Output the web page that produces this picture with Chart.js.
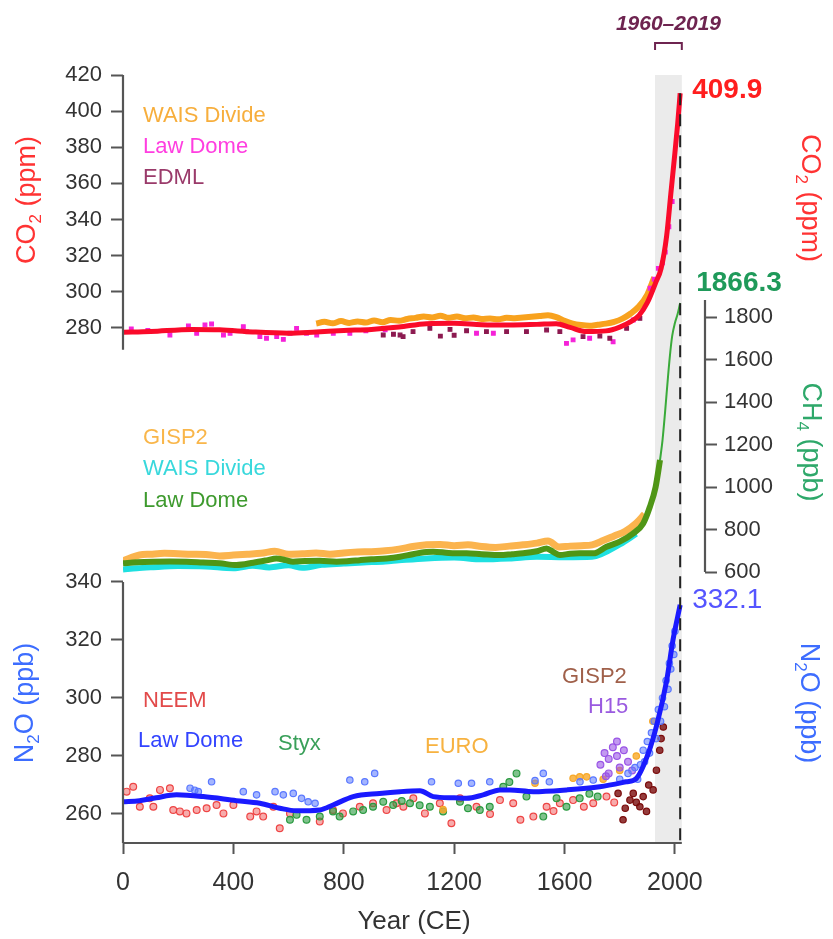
<!DOCTYPE html>
<html>
<head>
<meta charset="utf-8">
<title>CO2, CH4 and N2O over the Common Era</title>
<script src="https://cdn.jsdelivr.net/npm/chart.js@4.4.1/dist/chart.umd.min.js"></script>
<style>
  html, body { margin: 0; padding: 0; background: #ffffff; }
  #wrap { width: 833px; height: 939px; }
</style>
</head>
<body>
<div id="wrap"><canvas id="chart" width="833" height="939"></canvas></div>
<script>
const FONT = "'Liberation Sans', Arial, Helvetica, sans-serif";

// ---- tick values ----
const yearTicks = [0, 400, 800, 1200, 1600, 2000];
const co2Ticks = [280, 300, 320, 340, 360, 380, 400, 420];
const ch4Ticks = [600, 800, 1000, 1200, 1400, 1600, 1800];
const n2oTicks = [260, 280, 300, 320, 340];

// ---- highlighted recent period and latest values ----
const highlightSpan = [1928, 2025];
const periodLabel = '1960\u20132019';
const latestYear = 2019;
const latestCO2 = 409.9;
const latestCH4 = 1866.3;
const latestN2O = 332.1;

// ---- CO2 (ppm) ----
const co2Spline = [[0,277.6],[100,278.0],[250,279.2],[350,279.0],[470,277.8],[600,277.1],[700,277.8],[800,278.6],[900,279.2],[1000,280.5],[1100,282.4],[1200,282.6],[1300,281.8],[1400,281.6],[1500,282.0],[1570,282.4],[1620,280.3],[1680,278.0],[1750,278.4],[1800,280.5],[1840,283.5],[1870,287.0],[1900,294.0],[1930,305.0],[1950,313.0],[1970,331.0],[1985,354.0],[2000,377.0],[2010,393.0],[2019,409.9]];
const co2Wais = [[700,282.5],[730,283.4],[760,282.6],[790,283.8],[820,282.8],[850,283.6],[880,283.0],[910,284.2],[940,283.2],[970,284.4],[1000,284.0],[1030,285.0],[1060,285.6],[1090,286.4],[1120,285.8],[1150,286.8],[1180,285.6],[1210,286.4],[1240,285.4],[1270,285.8],[1300,285.0],[1330,285.2],[1360,284.8],[1390,285.6],[1420,285.4],[1450,285.8],[1480,286.2],[1510,286.6],[1540,287.0],[1570,286.0],[1600,284.0],[1630,282.4],[1660,281.6],[1690,281.2],[1720,281.8],[1750,282.4],[1780,283.4],[1810,285.2],[1840,288.0],[1870,292.0],[1900,298.5],[1925,308.0]];
const co2LawDome = [[30,279.5],[90,278.6],[170,276.1],[237,281.1],[267,277.1],[297,281.7],[321,282.2],[364,276.1],[388,277.1],[436,280.7],[448,278.0],[496,275.2],[520,274.3],[557,275.2],[581,273.7],[605,277.1],[629,279.8],[665,277.1],[702,276.1],[762,277.1],[822,277.1],[880,278.5],[950,279.0],[1281,277.1],[1342,277.1],[1607,271.5],[1631,273.4],[1691,274.3],[1776,272.4],[1849,284.4],[1910,302.0],[1925,307.0],[1940,313.0],[1955,316.0],[1965,322.0],[1978,336.0],[1990,350.0]];
const co2Edml = [[943,276.1],[980,276.5],[1004,276.1],[1015,275.2],[1051,278.0],[1112,279.8],[1150,275.5],[1185,279.2],[1200,276.0],[1245,278.5],[1317,278.0],[1390,278.0],[1462,278.0],[1535,278.9],[1583,278.0],[1667,275.2],[1728,275.6],[1764,274.3],[1825,279.8],[1873,285.3]];

// ---- CH4 (ppb) ----
const ch4LawDome = [[0,641],[50,646],[110,649],[170,650],[230,649],[290,645],[350,641],[411,633],[472,644],[520,655],[556,664],[590,656],[616,649],[660,652],[713,653],[774,649],[820,652],[858,656],[900,660],[955,664],[1004,672],[1050,684],[1100,694],[1124,696],[1180,690],[1245,688],[1300,684],[1366,680],[1410,684],[1450,688],[1500,698],[1535,711],[1560,694],[1583,680],[1620,686],[1655,688],[1704,688],[1752,719],[1800,743],[1849,782],[1885,829],[1909,906],[1930,1000],[1946,1127]];
const ch4Gisp2 = [[0,652],[30,668],[60,680],[100,684],[150,688],[200,686],[250,684],[300,683],[350,676],[400,680],[450,684],[500,688],[550,698],[600,684],[650,686],[700,690],[750,684],[800,690],[850,694],[900,696],[950,700],[1000,708],[1050,720],[1100,728],[1150,730],[1200,724],[1250,728],[1300,720],[1350,716],[1400,722],[1450,728],[1500,736],[1540,746],[1580,718],[1620,722],[1660,724],[1700,728],[1740,748],[1780,770],[1820,792],[1860,830],[1890,872]];
const ch4Wais = [[0,612],[50,618],[100,622],[200,628],[300,626],[400,618],[470,630],[530,622],[600,632],[650,620],[720,634],[800,640],[870,645],[950,650],[1000,655],[1100,664],[1200,668],[1300,660],[1400,664],[1500,672],[1600,670],[1700,672],[1800,730],[1860,780]];
const ch4Recent = [[1946,1127],[1955,1220],[1964,1348],[1975,1520],[1982,1620],[1990,1710],[2000,1772],[2010,1815],[2019,1866.3]];

// ---- N2O (ppb) ----
const n2oSpline = [[0,264.2],[60,264.6],[120,265.6],[194,266.6],[291,266.0],[411,264.6],[496,263.7],[568,262.0],[628,261.1],[713,261.4],[761,263.1],[834,266.0],[930,267.1],[1004,267.7],[1076,268.0],[1124,266.0],[1200,265.6],[1245,265.4],[1305,266.6],[1366,268.3],[1402,268.3],[1487,267.7],[1607,268.3],[1728,269.4],[1824,271.1],[1860,272.2],[1900,280.0],[1935,291.0],[1970,306.0],[1993,320.0],[2010,328.0],[2019,332.1]];
const n2oLawDome = [[243,268.9],[260,268.2],[273,267.7],[321,271.1],[436,267.7],[484,266.6],[551,267.7],[581,266.6],[617,267.1],[647,265.4],[671,264.2],[696,263.7],[822,271.7],[876,271.1],[912,274.0],[1118,271.1],[1215,270.6],[1263,270.6],[1329,271.1],[1493,271.5],[1523,274.0],[1545,271.1],[1656,271.1],[1704,271.7],[1800,272.0],[1830,274.0],[1855,276.0],[1865,272.0],[1875,277.0],[1885,282.0],[1890,278.0],[1900,285.0],[1908,281.0],[1915,288.0],[1925,292.0],[1932,286.0],[1940,296.0],[1948,292.0],[1955,300.0],[1962,297.0],[1968,306.0],[1975,303.0],[1980,312.0],[1985,310.0],[1990,318.0],[1996,315.0],[2000,323.0]];
const n2oNeem = [[13,267.7],[37,269.4],[61,262.5],[97,265.4],[110,262.5],[134,268.3],[170,268.9],[182,261.4],[206,260.9],[230,260.2],[267,261.4],[303,262.0],[339,263.1],[364,260.2],[400,263.1],[461,259.1],[484,260.9],[508,259.1],[545,262.5],[568,255.1],[605,260.2],[713,257.4],[761,261.4],[797,260.2],[858,262.5],[906,263.7],[955,261.4],[991,263.7],[1016,262.5],[1052,265.4],[1094,260.2],[1148,263.7],[1190,256.8],[1221,265.4],[1281,262.5],[1330,260.0],[1366,264.8],[1414,263.7],[1440,258.0],[1487,259.1],[1535,262.5],[1560,261.0],[1583,263.7],[1631,264.8],[1670,262.5],[1704,263.7],[1752,266.0],[1780,264.0]];
const n2oStyx = [[605,258.0],[629,259.7],[665,258.0],[713,259.1],[761,260.9],[785,259.1],[834,260.9],[870,261.4],[906,262.5],[943,264.2],[979,263.1],[1010,264.5],[1040,263.7],[1075,263.0],[1112,262.5],[1160,260.9],[1221,264.2],[1250,262.0],[1293,261.4],[1329,262.5],[1378,269.4],[1400,271.0],[1426,274.0],[1462,266.0],[1523,259.1],[1571,265.4],[1607,262.5],[1655,265.4],[1690,267.0],[1720,266.0]];
const n2oEuro = [[1160,261.5],[1493,270.6],[1631,272.3],[1655,272.8],[1680,272.8],[1740,272.0],[1800,275.0],[1860,280.0],[1920,292.0]];
const n2oGisp2 = [[1794,267.1],[1812,258.0],[1820,262.0],[1837,264.8],[1849,267.1],[1860,264.0],[1873,262.5],[1885,266.0],[1897,260.9],[1905,270.0],[1921,268.3],[1933,275.1],[1945,282.0],[1950,286.0],[1958,290.0]];
const n2oH15 = [[1730,277],[1745,281],[1750,273],[1760,279],[1760,274],[1775,283],[1790,280],[1790,285],[1800,276],[1815,282],[1830,278],[1845,275]];

const pts = arr => arr.map(([x, y]) => ({ x, y }));

function lineSet(data, axis, color, width, order) {
  return { type: 'line', data: pts(data), yAxisID: axis, borderColor: color, borderWidth: width,
           pointRadius: 0, showLine: true, fill: false, cubicInterpolationMode: 'monotone', order };
}
function dotSet(data, axis, fillCol, edgeCol, style, r, order) {
  return { type: 'scatter', data: pts(data), yAxisID: axis, backgroundColor: fillCol, borderColor: edgeCol,
           borderWidth: 1.2, pointStyle: style, pointRadius: r, showLine: false, order };
}

const datasets = [
  // CO2
  lineSet(co2Spline, 'yCO2', '#fa0a2a', 5, 1),
  dotSet(co2Edml, 'yCO2', '#8c1a50', '#8c1a50', 'rect', 2.6, 2),
  dotSet(co2LawDome, 'yCO2', '#f522d8', '#f522d8', 'rect', 2.6, 3),
  lineSet(co2Wais, 'yCO2', '#f8a21e', 6, 4),
  // CH4
  lineSet(ch4Recent, 'yCH4', '#3aaa3a', 2, 5),
  lineSet(ch4LawDome, 'yCH4', '#4f9616', 6, 6),
  lineSet(ch4Gisp2, 'yCH4', '#fbb44e', 7, 7),
  lineSet(ch4Wais, 'yCH4', '#1ee0e0', 6, 8),
  // N2O
  lineSet(n2oSpline, 'yN2O', '#1a1aff', 5, 9),
  dotSet(n2oLawDome, 'yN2O', 'rgba(90,120,255,0.55)', '#5a78ff', 'circle', 3.2, 10),
  dotSet(n2oH15, 'yN2O', 'rgba(154,85,230,0.6)', '#9a55e6', 'circle', 3.4, 11),
  dotSet(n2oGisp2, 'yN2O', 'rgba(122,12,12,0.8)', '#7a0c0c', 'circle', 3.2, 12),
  dotSet(n2oEuro, 'yN2O', 'rgba(247,168,40,0.8)', '#f7a828', 'circle', 3.2, 13),
  dotSet(n2oStyx, 'yN2O', 'rgba(42,154,64,0.6)', '#2a9a40', 'circle', 3.4, 14),
  dotSet(n2oNeem, 'yN2O', 'rgba(238,68,68,0.45)', '#ee4444', 'circle', 3.4, 15)
];

// fixed axis footprints so the three panels share one plotting frame
function fixSize(prop, size) {
  return s => { s[prop] = size; s.paddingLeft = 0; s.paddingRight = 0; s.paddingTop = 0; s.paddingBottom = 0; };
}
function useTicks(list) {
  return s => { s.ticks = list.map(v => ({ value: v })); };
}
const tickFont = { family: FONT, size: 22 };
function yAxis(pos, min, max, list, width) {
  return {
    type: 'linear', position: pos, min, max, bounds: 'data',
    afterBuildTicks: useTicks(list),
    afterFit: fixSize('width', width),
    border: { display: false },
    grid: { drawOnChartArea: false, drawTicks: true, tickLength: 12, tickWidth: 2, tickColor: '#555' },
    ticks: { color: '#333', font: tickFont, padding: pos === 'left' ? 9 : 7, callback: v => String(v) }
  };
}

// subscript-aware label writer
function writeChem(ctx, parts, cx, cy, rot, size, color, weight) {
  const subSize = Math.round(size * 0.62);
  ctx.save();
  ctx.translate(cx, cy);
  ctx.rotate(rot);
  ctx.fillStyle = color;
  ctx.textBaseline = 'middle';
  ctx.textAlign = 'left';
  let total = 0;
  const widths = parts.map(([t, sub]) => {
    ctx.font = (weight || '') + ' ' + (sub ? subSize : size) + 'px ' + FONT;
    const w = ctx.measureText(t).width;
    total += w;
    return w;
  });
  let x = -total / 2;
  parts.forEach(([t, sub], i) => {
    ctx.font = (weight || '') + ' ' + (sub ? subSize : size) + 'px ' + FONT;
    ctx.fillText(t, x, sub ? size * 0.3 : 0);
    x += widths[i];
  });
  ctx.restore();
}

const decor = {
  id: 'decor',
  afterLayout(chart) {
    // the inner N2O axis shares the CO2 axis' label strip
    const s = chart.scales.yN2O;
    s.left = 0;
    s.width = s.right - s.left;
  },
  beforeDatasetsDraw(chart) {
    const { ctx, chartArea: a, scales: { x } } = chart;
    const x0 = x.getPixelForValue(highlightSpan[0]);
    const x1 = x.getPixelForValue(highlightSpan[1]);
    ctx.save();
    ctx.fillStyle = '#ebebeb';
    ctx.fillRect(x0, a.top, x1 - x0, a.bottom - a.top);
    ctx.restore();
  },
  afterDatasetsDraw(chart) {
    const { ctx, chartArea: a, scales: { x, yCO2 } } = chart;
    const xl = x.getPixelForValue(latestYear);
    ctx.save();
    ctx.strokeStyle = '#222';
    ctx.lineWidth = 2;
    ctx.setLineDash([12, 9]);
    ctx.beginPath();
    ctx.moveTo(xl, yCO2.getPixelForValue(latestCO2));
    ctx.lineTo(xl, a.bottom);
    ctx.stroke();
    ctx.restore();
  },
  afterDraw(chart) {
    const { ctx, chartArea: a, scales: { x, yCO2, yCH4, yN2O } } = chart;
    ctx.save();
    // axis lines
    ctx.strokeStyle = '#555';
    ctx.lineWidth = 2.2;
    ctx.lineCap = 'butt';
    const seg = (x1, y1, x2, y2) => { ctx.beginPath(); ctx.moveTo(x1, y1); ctx.lineTo(x2, y2); ctx.stroke(); };
    seg(x.getPixelForValue(0), a.bottom, x.getPixelForValue(2025), a.bottom);
    seg(a.left, yCO2.getPixelForValue(420), a.left, yCO2.getPixelForValue(268));
    seg(a.left, yN2O.getPixelForValue(340), a.left, a.bottom);
    seg(a.right, yCH4.getPixelForValue(1880), a.right, yCH4.getPixelForValue(600));

    // period bracket
    const b0 = x.getPixelForValue(highlightSpan[0]);
    const b1 = x.getPixelForValue(highlightSpan[1]);
    ctx.strokeStyle = '#6e2450';
    ctx.lineWidth = 2;
    ctx.beginPath();
    ctx.moveTo(b0, 50); ctx.lineTo(b0, 43); ctx.lineTo(b1, 43); ctx.lineTo(b1, 50);
    ctx.stroke();
    ctx.fillStyle = '#6e2450';
    ctx.font = 'italic bold 21px ' + FONT;
    ctx.textAlign = 'center';
    ctx.textBaseline = 'middle';
    ctx.fillText(periodLabel, (b0 + b1) / 2, 24);

    // latest values
    const xl = x.getPixelForValue(latestYear);
    ctx.textAlign = 'left';
    ctx.font = 'bold 28px ' + FONT;
    ctx.fillStyle = '#ff1e1e';
    ctx.fillText(latestCO2.toFixed(1), xl + 12, yCO2.getPixelForValue(latestCO2) - 3);
    ctx.fillStyle = '#1f9a5a';
    ctx.fillText(latestCH4.toFixed(1), xl + 16, yCH4.getPixelForValue(latestCH4) - 20);
    ctx.font = '28px ' + FONT;
    ctx.fillStyle = '#5555ff';
    ctx.fillText(latestN2O.toFixed(1), xl + 12, yN2O.getPixelForValue(latestN2O) - 5);

    // series names
    const names = [
      ['WAIS Divide', '#f7ae3c', 143, 116], ['Law Dome', '#ff3ee0', 143, 147], ['EDML', '#9a3a6a', 143, 178],
      ['GISP2', '#f9b64a', 143, 438], ['WAIS Divide', '#38d8dc', 143, 469], ['Law Dome', '#3e9a2e', 143, 501],
      ['NEEM', '#e24a4a', 143, 701], ['Law Dome', '#3344ff', 138, 741], ['Styx', '#3aa05a', 278, 744],
      ['EURO', '#f7b240', 425, 747], ['GISP2', '#a0604a', 562, 677], ['H15', '#9a5ae0', 588, 707]
    ];
    ctx.font = '22px ' + FONT;
    names.forEach(([t, c, px, py]) => { ctx.fillStyle = c; ctx.fillText(t, px, py); });

    // axis titles
    const co2Parts = [['CO', 0], ['2', 1], [' (ppm)', 0]];
    const ch4Parts = [['CH', 0], ['4', 1], [' (ppb)', 0]];
    const n2oParts = [['N', 0], ['2', 1], ['O (ppb)', 0]];
    writeChem(ctx, co2Parts, 28, 200, -Math.PI / 2, 27, '#ff3333');
    writeChem(ctx, n2oParts, 26, 703, -Math.PI / 2, 27, '#3d6dff');
    writeChem(ctx, co2Parts, 809, 198, Math.PI / 2, 27, '#ff3333');
    writeChem(ctx, ch4Parts, 810, 442, Math.PI / 2, 27, '#2ea86a');
    writeChem(ctx, n2oParts, 808, 703, Math.PI / 2, 27, '#3d6dff');
    ctx.restore();
  }
};

new Chart(document.getElementById('chart'), {
  type: 'scatter',
  data: { datasets },
  options: {
    responsive: false,
    animation: false,
    devicePixelRatio: 1,
    layout: { padding: { top: 75, left: 0, right: 0, bottom: 0 } },
    plugins: { legend: { display: false }, tooltip: { enabled: false } },
    scales: {
      x: {
        type: 'linear', position: 'bottom', min: 0, max: 2109, bounds: 'data',
        afterBuildTicks: useTicks(yearTicks),
        afterFit: fixSize('height', 96),
        border: { display: false },
        grid: { drawOnChartArea: false, drawTicks: true, tickLength: 11, tickWidth: 2, tickColor: '#555' },
        ticks: { color: '#333', font: { family: FONT, size: 25 }, padding: 14, maxRotation: 0, autoSkip: false, callback: v => String(v) },
        title: { display: true, text: 'Year (CE)', color: '#333', font: { family: FONT, size: 26 }, padding: { top: 0, bottom: 2 } }
      },
      // inner left axis (zero width) listed first so the CO2 axis takes the outer slot
      yN2O: yAxis('left', 250, 514.8, n2oTicks, 0),
      yCO2: yAxis('left', -5, 420, co2Ticks, 123),
      yCH4: yAxis('right', -675, 2939, ch4Ticks, 128)
    }
  },
  plugins: [decor]
});
</script>
</body>
</html>
